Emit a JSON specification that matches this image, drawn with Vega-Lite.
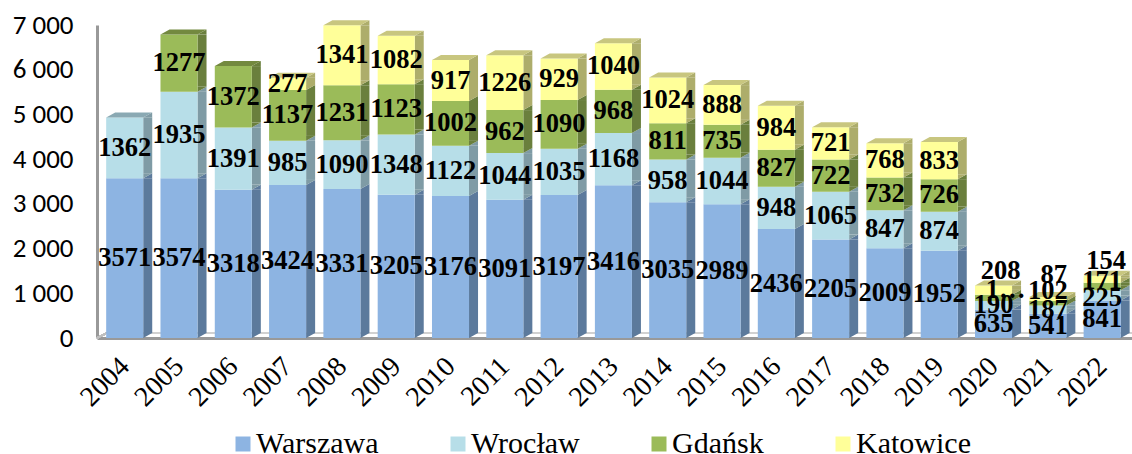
{
"$schema":"https://vega.github.io/schema/vega-lite/v6.json",
"width":1035,"height":313,
"autosize":"none",
"padding":{"left":97,"top":25,"right":0,"bottom":116},
"background":"white",
"config":{"view":{"stroke":null}},
"data":{"values":[
{"year":2004,"series":"Warszawa","order":1,"value":3571},{"year":2004,"series":"Wrocław","order":2,"value":1362},
{"year":2005,"series":"Warszawa","order":1,"value":3574},{"year":2005,"series":"Wrocław","order":2,"value":1935},{"year":2005,"series":"Gdańsk","order":3,"value":1277},
{"year":2006,"series":"Warszawa","order":1,"value":3318},{"year":2006,"series":"Wrocław","order":2,"value":1391},{"year":2006,"series":"Gdańsk","order":3,"value":1372},
{"year":2007,"series":"Warszawa","order":1,"value":3424},{"year":2007,"series":"Wrocław","order":2,"value":985},{"year":2007,"series":"Gdańsk","order":3,"value":1137},{"year":2007,"series":"Katowice","order":4,"value":277},
{"year":2008,"series":"Warszawa","order":1,"value":3331},{"year":2008,"series":"Wrocław","order":2,"value":1090},{"year":2008,"series":"Gdańsk","order":3,"value":1231},{"year":2008,"series":"Katowice","order":4,"value":1341},
{"year":2009,"series":"Warszawa","order":1,"value":3205},{"year":2009,"series":"Wrocław","order":2,"value":1348},{"year":2009,"series":"Gdańsk","order":3,"value":1123},{"year":2009,"series":"Katowice","order":4,"value":1082},
{"year":2010,"series":"Warszawa","order":1,"value":3176},{"year":2010,"series":"Wrocław","order":2,"value":1122},{"year":2010,"series":"Gdańsk","order":3,"value":1002},{"year":2010,"series":"Katowice","order":4,"value":917},
{"year":2011,"series":"Warszawa","order":1,"value":3091},{"year":2011,"series":"Wrocław","order":2,"value":1044},{"year":2011,"series":"Gdańsk","order":3,"value":962},{"year":2011,"series":"Katowice","order":4,"value":1226},
{"year":2012,"series":"Warszawa","order":1,"value":3197},{"year":2012,"series":"Wrocław","order":2,"value":1035},{"year":2012,"series":"Gdańsk","order":3,"value":1090},{"year":2012,"series":"Katowice","order":4,"value":929},
{"year":2013,"series":"Warszawa","order":1,"value":3416},{"year":2013,"series":"Wrocław","order":2,"value":1168},{"year":2013,"series":"Gdańsk","order":3,"value":968},{"year":2013,"series":"Katowice","order":4,"value":1040},
{"year":2014,"series":"Warszawa","order":1,"value":3035},{"year":2014,"series":"Wrocław","order":2,"value":958},{"year":2014,"series":"Gdańsk","order":3,"value":811},{"year":2014,"series":"Katowice","order":4,"value":1024},
{"year":2015,"series":"Warszawa","order":1,"value":2989},{"year":2015,"series":"Wrocław","order":2,"value":1044},{"year":2015,"series":"Gdańsk","order":3,"value":735},{"year":2015,"series":"Katowice","order":4,"value":888},
{"year":2016,"series":"Warszawa","order":1,"value":2436},{"year":2016,"series":"Wrocław","order":2,"value":948},{"year":2016,"series":"Gdańsk","order":3,"value":827},{"year":2016,"series":"Katowice","order":4,"value":984},
{"year":2017,"series":"Warszawa","order":1,"value":2205},{"year":2017,"series":"Wrocław","order":2,"value":1065},{"year":2017,"series":"Gdańsk","order":3,"value":722},{"year":2017,"series":"Katowice","order":4,"value":721},
{"year":2018,"series":"Warszawa","order":1,"value":2009},{"year":2018,"series":"Wrocław","order":2,"value":847},{"year":2018,"series":"Gdańsk","order":3,"value":732},{"year":2018,"series":"Katowice","order":4,"value":768},
{"year":2019,"series":"Warszawa","order":1,"value":1952},{"year":2019,"series":"Wrocław","order":2,"value":874},{"year":2019,"series":"Gdańsk","order":3,"value":726},{"year":2019,"series":"Katowice","order":4,"value":833},
{"year":2020,"series":"Warszawa","order":1,"value":635},{"year":2020,"series":"Wrocław","order":2,"value":190},{"year":2020,"series":"Gdańsk","order":3,"value":140},{"year":2020,"series":"Katowice","order":4,"value":208},
{"year":2021,"series":"Warszawa","order":1,"value":541},{"year":2021,"series":"Wrocław","order":2,"value":187},{"year":2021,"series":"Gdańsk","order":3,"value":102},{"year":2021,"series":"Katowice","order":4,"value":87},
{"year":2022,"series":"Warszawa","order":1,"value":841},{"year":2022,"series":"Wrocław","order":2,"value":225},{"year":2022,"series":"Gdańsk","order":3,"value":171},{"year":2022,"series":"Katowice","order":4,"value":154}
]},
"transform":[
{"stack":"value","groupby":["year"],"sort":[{"field":"order","order":"ascending"}],"as":["v0","v1"]},
{"calculate":"(datum.v0+datum.v1)/2","as":"mid"},
{"calculate":"datum.year-0.341","as":"xl"},
{"calculate":"datum.year+0.341","as":"xr"},
{"calculate":"datum.year+0.507","as":"xs"},
{"calculate":"datum.v0+111","as":"vs"},
{"joinaggregate":[{"op":"max","field":"order","as":"maxOrder"}],"groupby":["year"]}
],
"resolve":{"scale":{"color":"independent"}},
"layer":[
{"mark":{"type":"rule","color":"#d0d0d0","strokeWidth":1.5},
 "encoding":{"x":{"datum":2003.66,"type":"quantitative"},"x2":{"datum":2022.55},"y":{"datum":111,"type":"quantitative"}}},
{"mark":{"type":"rule","color":"#bfbfbf","strokeWidth":1.5},
 "encoding":{"x":{"datum":2003.49,"type":"quantitative"},"x2":{"datum":2003.66},"y":{"datum":0,"type":"quantitative"},"y2":{"datum":111}}},
{"mark":{"type":"rect","opacity":1},
 "encoding":{
  "x":{"field":"xr","type":"quantitative","scale":{"domain":[2003.49,2022.55],"nice":false,"zero":false,"padding":0},
    "axis":{"values":[2004,2005,2006,2007,2008,2009,2010,2011,2012,2013,2014,2015,2016,2017,2018,2019,2020,2021,2022],"format":"d","title":null,"grid":false,"ticks":false,"domainColor":"#999999","domainWidth":3,"labelAngle":-45,"labelAlign":"right","labelBaseline":"middle","labelFont":"Liberation Serif","labelFontSize":28,"labelColor":"#000000","labelPadding":24,"labelOverlap":false,"labelFlush":false,"labelBound":false}},
  "x2":{"field":"xs"},
  "y":{"field":"vs","type":"quantitative","stack":null,"scale":{"domain":[0,7000],"nice":false},
    "axis":{"values":[0,1000,2000,3000,4000,5000,6000,7000],"labelExpr":"datum.value==0?'0':(datum.value/1000)+' 000'","title":null,"grid":false,"ticks":false,"domainColor":"#999999","domainWidth":3,"labelFont":"Carlito, Open Sans","labelFontSize":27,"labelColor":"#000000","labelPadding":24,"labelBound":false}},
  "y2":{"field":"v1"},
  "color":{"field":"series","scale":{"domain":["Warszawa","Wrocław","Gdańsk","Katowice"],"range":["#5C7A9C","#7F9BA5","#6A7F3D","#ADAD6B"]},"legend":null}
 }
},
{"mark":{"type":"point","filled":true,"opacity":1,"size":2116,"shape":"M0.804,0L1.196,-0.217L1.196,0Z"},
 "encoding":{
  "x":{"field":"year","type":"quantitative"},
  "y":{"field":"v1","type":"quantitative"},
  "color":{"field":"series","scale":{"domain":["Warszawa","Wrocław","Gdańsk","Katowice"],"range":["#5C7A9C","#7F9BA5","#6A7F3D","#ADAD6B"]},"legend":null}
 }
},
{"mark":{"type":"point","filled":true,"opacity":1,"size":2116,"shape":"M0.804,0L1.196,-0.217L0.804,-0.217Z"},
 "encoding":{
  "x":{"field":"year","type":"quantitative"},
  "y":{"field":"v0","type":"quantitative"},
  "color":{"field":"series","scale":{"domain":["Warszawa","Wrocław","Gdańsk","Katowice"],"range":["#5C7A9C","#7F9BA5","#6A7F3D","#ADAD6B"]},"legend":null}
 }
},
{"mark":{"type":"rect","opacity":1},
 "encoding":{
  "x":{"field":"xl","type":"quantitative"},
  "x2":{"field":"xr"},
  "y":{"field":"v0","type":"quantitative","stack":null},
  "y2":{"field":"v1"},
  "color":{"field":"series","scale":{"domain":["Warszawa","Wrocław","Gdańsk","Katowice"],"range":["#8DB4E2","#B7DEE8","#9BBB59","#FFFF99"]},
    "legend":{"orient":"none","legendX":131,"legendY":404,"direction":"horizontal","columns":4,"gridAlign":"none","columnPadding":64,"padding":0,"title":null,"symbolType":"square","symbolSize":225,"symbolStrokeWidth":0,"symbolOpacity":1,"labelOffset":-2,"labelFont":"Liberation Serif","labelFontSize":30,"labelColor":"#000000","labelLimit":300}}
 }
},
{"transform":[{"filter":"datum.order==datum.maxOrder"}],
 "mark":{"type":"point","filled":true,"opacity":1,"size":2116,"shape":"M-0.804,0L0.804,0L1.196,-0.217L-0.413,-0.217Z"},
 "encoding":{
  "x":{"field":"year","type":"quantitative"},
  "y":{"field":"v1","type":"quantitative"},
  "color":{"field":"series","scale":{"domain":["Warszawa","Wrocław","Gdańsk","Katowice"],"range":["#7A99BC","#8AA9B3","#73893F","#C8C67F"]},"legend":null}
 }
},
{"transform":[{"filter":"datum.year<2020 || datum.order==1 || (datum.order==2 && datum.year<2022)"}],
 "mark":{"type":"text","font":"Liberation Serif","fontWeight":"bold","fontSize":26.5,"color":"#000000","baseline":"middle"},
 "encoding":{"x":{"field":"year","type":"quantitative"},"y":{"field":"mid","type":"quantitative"},"text":{"field":"value","type":"nominal"}}},
{"transform":[{"filter":"datum.order==4 && datum.year==2020"}],
 "mark":{"type":"text","font":"Liberation Serif","fontWeight":"bold","fontSize":26.5,"color":"#000000","baseline":"middle","dy":-19,"dx":7},
 "encoding":{"x":{"field":"year","type":"quantitative"},"y":{"field":"mid","type":"quantitative"},"text":{"field":"value","type":"nominal"}}},
{"transform":[{"filter":"datum.order==4 && datum.year==2021"}],
 "mark":{"type":"text","font":"Liberation Serif","fontWeight":"bold","fontSize":26.5,"color":"#000000","baseline":"middle","dy":-24,"dx":6},
 "encoding":{"x":{"field":"year","type":"quantitative"},"y":{"field":"mid","type":"quantitative"},"text":{"field":"value","type":"nominal"}}},
{"transform":[{"filter":"datum.order==4 && datum.year==2022"}],
 "mark":{"type":"text","font":"Liberation Serif","fontWeight":"bold","fontSize":26.5,"color":"#000000","baseline":"middle","dy":-18,"dx":4},
 "encoding":{"x":{"field":"year","type":"quantitative"},"y":{"field":"mid","type":"quantitative"},"text":{"field":"value","type":"nominal"}}},
{"transform":[{"filter":"datum.order==3 && datum.year==2021"}],
 "mark":{"type":"text","font":"Liberation Serif","fontWeight":"bold","fontSize":26.5,"color":"#000000","baseline":"middle","dy":-12},
 "encoding":{"x":{"field":"year","type":"quantitative"},"y":{"field":"mid","type":"quantitative"},"text":{"field":"value","type":"nominal"}}},
{"transform":[{"filter":"datum.order==3 && datum.year==2022"}],
 "mark":{"type":"text","font":"Liberation Serif","fontWeight":"bold","fontSize":26.5,"color":"#000000","baseline":"middle","dy":-6},
 "encoding":{"x":{"field":"year","type":"quantitative"},"y":{"field":"mid","type":"quantitative"},"text":{"field":"value","type":"nominal"}}},
{"transform":[{"filter":"datum.order==2 && datum.year==2022"}],
 "mark":{"type":"text","font":"Liberation Serif","fontWeight":"bold","fontSize":26.5,"color":"#000000","baseline":"middle","dy":3},
 "encoding":{"x":{"field":"year","type":"quantitative"},"y":{"field":"mid","type":"quantitative"},"text":{"field":"value","type":"nominal"}}},
{"transform":[{"filter":"datum.order==3 && datum.year==2020"}],
 "mark":{"type":"text","font":"Liberation Serif","fontWeight":"bold","fontSize":26.5,"color":"#000000","baseline":"middle","dy":-8,"dx":12,"text":"1…"},
 "encoding":{"x":{"field":"year","type":"quantitative"},"y":{"field":"mid","type":"quantitative"}}}
]
}
